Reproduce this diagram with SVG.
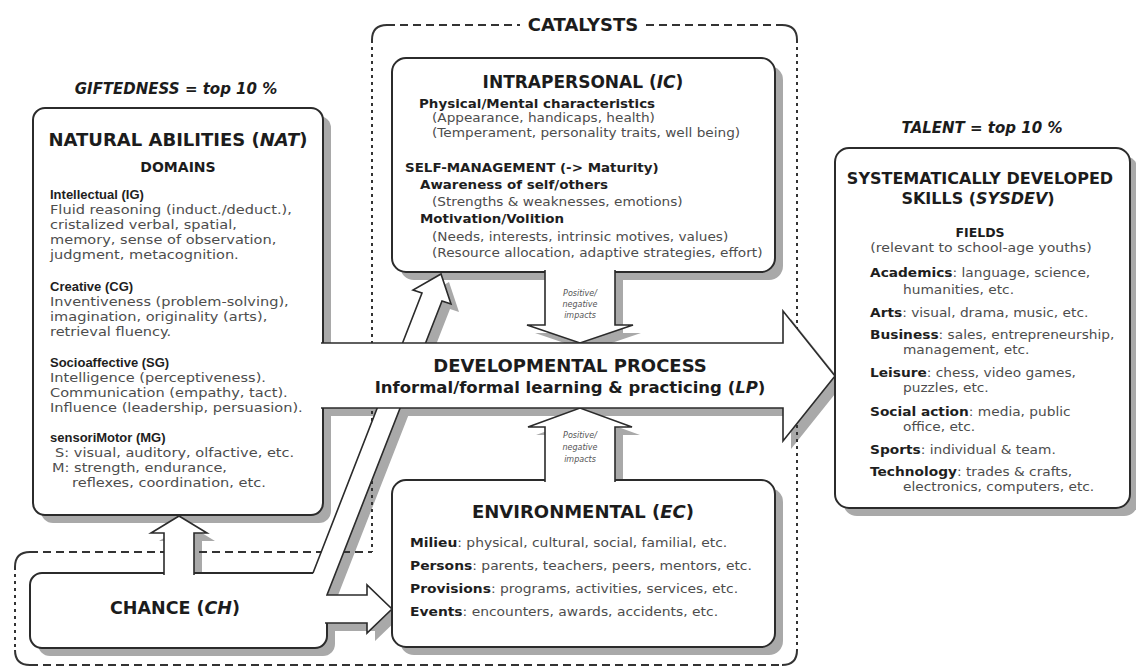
<svg xmlns="http://www.w3.org/2000/svg" width="1136" height="669" viewBox="0 0 1136 669">
  <defs>
    <style>
      text { font-family: "DejaVu Sans", "Liberation Sans", sans-serif; }
      .box { fill: #fff; stroke: #2b2b2b; stroke-width: 2; }
      .shadow { fill: #a9a9a9; stroke: none; }
      .arrow { fill: #fff; stroke: #2b2b2b; stroke-width: 1.6; stroke-linejoin: miter; }
      .dash-h { fill: none; stroke: #333; stroke-width: 2; stroke-dasharray: 8 5; }
      .dash-v { fill: none; stroke: #333; stroke-width: 2; stroke-dasharray: 3 4; }
      .corner { fill: none; stroke: #333; stroke-width: 2; }
      .title { font-weight: bold; fill: #1c1c1c; text-anchor: middle; }
      .lead { font-weight: bold; font-style: italic; fill: #1c1c1c; text-anchor: middle; }
      .body { fill: #4d4d4d; }
      .lbl { font-weight: bold; fill: #1e1e1e; }
      .narrow { font-family: "Liberation Sans", Arial, sans-serif; }
      .impact { font-size: 8px; font-style: italic; fill: #555; text-anchor: middle; }
      .it { font-style: italic; }
    </style>
  </defs>

  <rect width="1136" height="669" fill="#fff"/>

  <!-- drop shadows, offset 8px down-right -->
  <g id="shadows" transform="translate(8,8)">
    <rect class="shadow" x="33" y="108" width="290" height="407" rx="12"/>
    <rect class="shadow" x="392" y="58" width="383" height="214" rx="14"/>
    <rect class="shadow" x="392" y="480" width="383" height="167" rx="14"/>
    <rect class="shadow" x="835" y="148" width="295" height="360" rx="14"/>
    <rect class="shadow" x="30" y="573" width="297" height="75" rx="12"/>
    <path class="shadow" d="M164,575 V533 H151 L179,516 L207,533 H194 V575 Z"/>
    <path class="shadow" d="M313,573 L422,293 L413,290 L441,274 L451,304 L442,301 L327,595 H367 V585 L392,609 L367,633 V623 H325 Z"/>
    <path class="shadow" d="M545,270 V325 H527 L580,343 L633,325 H615 V270 Z"/>
    <path class="shadow" d="M545,482 V427 H528 L580,408 L632,427 H615 V482 Z"/>
    <path class="shadow" d="M321,343 H783 V311 L835,376 L783,441 V408 H321 Z"/>
  </g>

  <!-- dashed frame around the catalysts -->
  <g id="catalysts">
    <path class="dash-h" d="M387,25 H520 M646,25 H782 M30,665 H782 M30,552 H372"/>
    <path class="dash-v" d="M372,40 V552 M797,40 V650 M15,567 V650"/>
    <path class="corner" d="M372,40 Q372,25 387,25 M782,25 Q797,25 797,40 M797,650 Q797,665 782,665 M30,665 Q15,665 15,650 M15,567 Q15,552 30,552"/>
    <text class="title" x="583" y="31" font-size="18">CATALYSTS</text>
  </g>

  <!-- natural abilities -->
  <g id="nat">
    <text class="lead" x="176" y="94" font-size="15">GIFTEDNESS = top 10 %</text>
    <rect class="box" x="33" y="108" width="290" height="407" rx="12"/>
    <text class="title" x="178" y="146" font-size="18">NATURAL ABILITIES (<tspan class="it">NAT</tspan>)</text>
    <text class="title" x="178" y="172" font-size="14">DOMAINS</text>
    <g font-size="13">
      <text class="lbl narrow" x="50" y="199">Intellectual (IG)</text>
      <text class="lbl narrow" x="50" y="291">Creative (CG)</text>
      <text class="lbl narrow" x="50" y="367">Socioaffective (SG)</text>
      <text class="lbl narrow" x="50" y="442">sensoriMotor (MG)</text>
    </g>
    <g font-size="12.5" transform="translate(50 0) scale(1.165 1) translate(-50 0)">
      <text class="body" x="50" y="214">Fluid reasoning (induct./deduct.),</text>
      <text class="body" x="50" y="229">cristalized verbal, spatial,</text>
      <text class="body" x="50" y="244">memory, sense of observation,</text>
      <text class="body" x="50" y="259">judgment, metacognition.</text>
      <text class="body" x="50" y="306">Inventiveness (problem-solving),</text>
      <text class="body" x="50" y="321">imagination, originality (arts),</text>
      <text class="body" x="50" y="336">retrieval fluency.</text>
      <text class="body" x="50" y="382">Intelligence (perceptiveness).</text>
      <text class="body" x="50" y="397">Communication (empathy, tact).</text>
      <text class="body" x="50" y="412">Influence (leadership, persuasion).</text>
      <text class="body" x="54.3" y="457">S: visual, auditory, olfactive, etc.</text>
      <text class="body" x="51.7" y="472">M: strength, endurance,</text>
      <text class="body" x="68.9" y="487">reflexes, coordination, etc.</text>
    </g>
  </g>

  <!-- intrapersonal catalysts -->
  <g id="ic">
    <rect class="box" x="392" y="58" width="383" height="214" rx="14"/>
    <text class="title" x="583" y="88" font-size="17">INTRAPERSONAL (<tspan class="it">IC</tspan>)</text>
    <g transform="translate(405 0) scale(1.12 1) translate(-405 0)">
      <text class="lbl" x="417.5" y="108" font-size="12">Physical/Mental characteristics</text>
      <text class="body" x="429.1" y="122" font-size="12.2">(Appearance, handicaps, health)</text>
      <text class="body" x="429.1" y="137" font-size="12.2">(Temperament, personality traits, well being)</text>
      <text class="lbl" x="405" y="172" font-size="12">SELF-MANAGEMENT (-&gt; Maturity)</text>
      <text class="lbl" x="418.4" y="189" font-size="12">Awareness of self/others</text>
      <text class="body" x="429.1" y="206" font-size="12.2">(Strengths &amp; weaknesses, emotions)</text>
      <text class="lbl" x="418.4" y="223" font-size="12">Motivation/Volition</text>
      <text class="body" x="429.1" y="241" font-size="12.2">(Needs, interests, intrinsic motives, values)</text>
      <text class="body" x="429.1" y="257" font-size="12.2">(Resource allocation, adaptive strategies, effort)</text>
    </g>
  </g>

  <!-- environmental catalysts -->
  <g id="env">
    <rect class="box" x="392" y="480" width="383" height="167" rx="14"/>
    <text class="title" x="583" y="518" font-size="18">ENVIRONMENTAL (<tspan class="it">EC</tspan>)</text>
    <g font-size="12.5" transform="translate(410 0) scale(1.11 1) translate(-410 0)">
      <text class="body" x="410" y="547"><tspan class="lbl">Milieu</tspan>: physical, cultural, social, familial, etc.</text>
      <text class="body" x="410" y="570"><tspan class="lbl">Persons</tspan>: parents, teachers, peers, mentors, etc.</text>
      <text class="body" x="410" y="593"><tspan class="lbl">Provisions</tspan>: programs, activities, services, etc.</text>
      <text class="body" x="410" y="616"><tspan class="lbl">Events</tspan>: encounters, awards, accidents, etc.</text>
    </g>
  </g>

  <!-- systematically developed skills -->
  <g id="sysdev">
    <text class="lead" x="982" y="133" font-size="15">TALENT = top 10 %</text>
    <rect class="box" x="835" y="148" width="295" height="360" rx="14"/>
    <text class="title" x="980" y="184" font-size="16">SYSTEMATICALLY DEVELOPED</text>
    <text class="title" x="978" y="204" font-size="16">SKILLS (<tspan class="it">SYSDEV</tspan>)</text>
    <text class="title" x="980" y="237" font-size="12.5">FIELDS</text>
    <text class="body" x="981" y="252" font-size="12.5" text-anchor="middle" transform="translate(981 0) scale(1.13 1) translate(-981 0)">(relevant to school-age youths)</text>
    <g font-size="12.5" transform="translate(870 0) scale(1.1 1) translate(-870 0)">
      <text class="body" x="870" y="277.5"><tspan class="lbl">Academics</tspan>: language, science,</text>
      <text class="body" x="900" y="294">humanities, etc.</text>
      <text class="body" x="870" y="317.5"><tspan class="lbl">Arts</tspan>: visual, drama, music, etc.</text>
      <text class="body" x="870" y="339.5"><tspan class="lbl">Business</tspan>: sales, entrepreneurship,</text>
      <text class="body" x="900" y="354.5">management, etc.</text>
      <text class="body" x="870" y="377.5"><tspan class="lbl">Leisure</tspan>: chess, video games,</text>
      <text class="body" x="900" y="392.5">puzzles, etc.</text>
      <text class="body" x="870" y="416.5"><tspan class="lbl">Social action</tspan>: media, public</text>
      <text class="body" x="900" y="431.5">office, etc.</text>
      <text class="body" x="870" y="454.5"><tspan class="lbl">Sports</tspan>: individual &amp; team.</text>
      <text class="body" x="870" y="476.5"><tspan class="lbl">Technology</tspan>: trades &amp; crafts,</text>
      <text class="body" x="900" y="491.5">electronics, computers, etc.</text>
    </g>
  </g>

  <!-- chance -->
  <g id="chance">
    <rect class="box" x="30" y="573" width="297" height="75" rx="12"/>
    <text class="title" x="175" y="614" font-size="17.5">CHANCE (<tspan class="it">CH</tspan>)</text>
  </g>

  <!-- hollow arrows; open paths so each one merges into the box it leaves -->
  <g id="connectors">
    <path class="arrow" d="M164,575 V533 H151 L179,516 L207,533 H194 V575"/>
    <path class="arrow" d="M313,573 L422,293 L413,290 L441,274 L451,304 L442,301 L327,595 H367 V585 L392,609 L367,633 V623 H325"/>
    <path class="arrow" d="M545,270 V325 H527 L580,343 L633,325 H615 V270"/>
    <path class="arrow" d="M545,482 V427 H528 L580,408 L632,427 H615 V482"/>
    <path class="arrow" d="M321,343 H783 V311 L835,376 L783,441 V408 H321"/>
    <text class="impact" x="580" y="296">Positive/</text>
    <text class="impact" x="580" y="307">negative</text>
    <text class="impact" x="580" y="318">impacts</text>
    <text class="impact" x="580" y="438">Positive/</text>
    <text class="impact" x="580" y="450">negative</text>
    <text class="impact" x="580" y="462">impacts</text>
    <text class="title" x="570" y="372" font-size="18">DEVELOPMENTAL PROCESS</text>
    <text class="title" x="570" y="393" font-size="16.5">Informal/formal learning &amp; practicing (<tspan class="it">LP</tspan>)</text>
  </g>
</svg>
